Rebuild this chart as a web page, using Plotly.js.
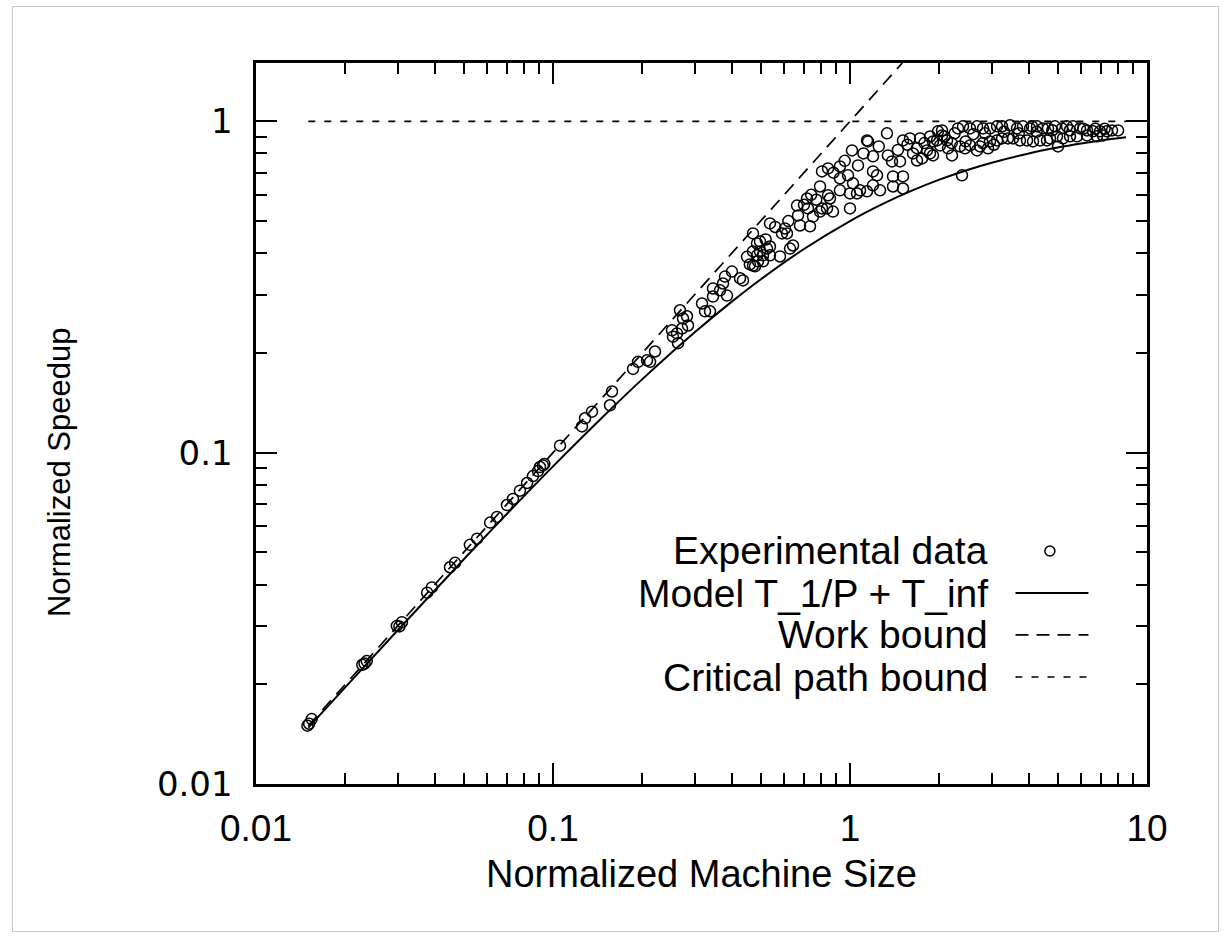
<!DOCTYPE html>
<html>
<head>
<meta charset="utf-8">
<script src="https://cdn.plot.ly/plotly-3.0.1.min.js"></script>
<style>
  html, body { margin: 0; padding: 0; background: #ffffff; }
  #chart { position: absolute; left: 0; top: 0; width: 1230px; height: 937px; }
  #frame { position: absolute; left: 12px; top: 6px; width: 1205px; height: 924px;
           border: 1px solid #c8c8c8; pointer-events: none; }
</style>
</head>
<body>
<div id="chart"></div>
<div id="frame"></div>
<script>
// ---- Experimental data (normalized machine size, normalized speedup) ----
const expX = [
  0.0149, 0.0154, 0.0151, 0.0228, 0.0236, 0.0232, 0.0298, 0.0310, 0.0304,
  0.0377, 0.0391, 0.0450, 0.0468, 0.0525, 0.0555, 0.0614, 0.0648,
  0.0700, 0.0733, 0.0774, 0.0818, 0.0856, 0.0890, 0.0904, 0.0925, 0.0935,
  0.1056, 0.1252, 0.1282, 0.1353, 0.158, 0.1556, 0.186, 0.1933, 0.2073, 0.2205,
  0.2122, 0.2516, 0.2615, 0.2677, 0.274, 0.2848, 0.2826, 0.2636, 0.2535, 0.2719,
  0.3175, 0.325, 0.3378, 0.3457, 0.365, 0.3736, 0.3794, 0.3853, 0.4005, 0.4262,
  0.3457, 0.4362,
  0.4714, 0.4863, 0.4977, 0.4714, 0.49, 0.5094, 0.4714, 0.5254, 0.4977, 0.4863,
  0.4788, 0.5377, 0.5377, 0.5094, 0.581, 0.5902, 0.6135, 0.604, 0.6281, 0.6429, 0.5377,
  0.6631, 0.6683, 0.6786, 0.7165, 0.7221, 0.7334, 0.7506, 0.7925, 0.805, 0.8368,
  0.8561, 0.8764, 0.7925, 0.805, 0.8433, 0.8433, 0.925, 0.925, 0.925, 0.9846,
  1.0, 1.0, 1.0156, 1.064, 1.0235, 1.056, 1.081, 1.141, 1.141, 1.195, 1.195,
  1.233, 1.195, 1.262, 1.332, 1.342, 1.385, 1.396, 1.396, 1.474, 1.508, 1.508,
  1.508, 1.592, 1.63, 1.681, 1.721, 1.748, 1.816, 1.903, 1.903, 1.979, 1.15,
  2.041, 2.041, 2.122, 2.31, 2.402, 2.535, 2.677, 2.805, 2.961, 3.126, 3.25,
  3.457, 3.65, 3.824, 4.038, 4.1, 4.262, 4.465, 4.642, 4.9, 5.174, 5.377, 5.633,
  5.948, 6.281, 6.579, 6.947, 7.334, 7.624, 7.989,
  1.963, 2.01, 2.138, 2.205, 2.346, 2.439, 2.535, 2.677, 2.74, 2.916, 2.961,
  3.126, 3.25, 3.404, 3.539, 3.736, 3.945, 4.133, 4.362, 4.605, 4.714, 4.977,
  5.214, 5.504, 5.81, 6.281, 6.786, 7.11,
  2.383, 5.016, 1.859,
  1.45, 1.56, 1.68, 1.78, 1.86, 2.08, 2.25, 2.6, 2.85, 3.3, 3.7, 4.25, 4.8,
  5.5, 6.1, 6.7, 7.2, 2.2, 2.45, 2.8, 3.05,
  0.45, 0.46, 0.52, 0.56, 0.62, 0.70, 0.74, 0.77, 0.88, 0.96, 1.11, 1.25
];
const expY = [
  0.0150, 0.0157, 0.0152, 0.0229, 0.0235, 0.0231, 0.0300, 0.0308, 0.0299,
  0.0378, 0.0392, 0.0451, 0.0465, 0.0527, 0.0550, 0.0615, 0.0640,
  0.0695, 0.0725, 0.0768, 0.0810, 0.0850, 0.0880, 0.0905, 0.0915, 0.0925,
  0.105, 0.120, 0.127, 0.133, 0.153, 0.139, 0.179, 0.188, 0.190, 0.202,
  0.188, 0.234, 0.229, 0.269, 0.254, 0.242, 0.258, 0.214, 0.224, 0.237,
  0.282, 0.267, 0.267, 0.296, 0.309, 0.324, 0.340, 0.298, 0.352, 0.336,
  0.313, 0.331,
  0.459, 0.428, 0.405, 0.405, 0.378, 0.378, 0.367, 0.413, 0.434, 0.394,
  0.365, 0.394, 0.419, 0.394, 0.391, 0.459, 0.459, 0.475, 0.413, 0.422, 0.492,
  0.557, 0.520, 0.485, 0.585, 0.546, 0.482, 0.516, 0.534, 0.546, 0.546,
  0.585, 0.534, 0.636, 0.706, 0.721, 0.598, 0.731, 0.673, 0.619, 0.687,
  0.546, 0.606, 0.817, 0.736, 0.650, 0.606, 0.619, 0.876, 0.615, 0.784, 0.706,
  0.687, 0.641, 0.619, 0.920, 0.789, 0.757, 0.682, 0.636, 0.757, 0.682, 0.627,
  0.876, 0.888, 0.800, 0.762, 0.888, 0.773, 0.817, 0.870, 0.789, 0.933, 0.870,
  0.939, 0.907, 0.876, 0.952, 0.966, 0.952, 0.966, 0.952, 0.952, 0.966, 0.966,
  0.973, 0.952, 0.966, 0.952, 0.966, 0.966, 0.952, 0.952, 0.966, 0.952, 0.966, 0.966,
  0.952, 0.939, 0.933, 0.933, 0.933, 0.939, 0.939,
  0.876, 0.846, 0.829, 0.789, 0.840, 0.829, 0.846, 0.817, 0.840, 0.829, 0.870,
  0.876, 0.888, 0.888, 0.888, 0.876, 0.876, 0.870, 0.876, 0.876, 0.888, 0.901,
  0.888, 0.901, 0.901, 0.907, 0.901, 0.907,
  0.687, 0.840, 0.800,
  0.82, 0.85, 0.83, 0.86, 0.90, 0.90, 0.92, 0.915, 0.92, 0.93, 0.92, 0.93, 0.94,
  0.94, 0.95, 0.95, 0.95, 0.86, 0.87, 0.86, 0.85,
  0.39, 0.37, 0.44, 0.48, 0.50, 0.56, 0.60, 0.58, 0.70, 0.76, 0.80, 0.84
];

// ---- Model T_1/P + T_inf ----
const modelX = [0.015, 0.02, 0.03, 0.05, 0.07, 0.1, 0.15, 0.2, 0.3, 0.4, 0.5, 0.7,
                1, 1.3, 1.6, 2, 2.5, 3, 4, 5, 6, 7, 8.5];
const modelY = [0.0148, 0.0196, 0.0291, 0.0476, 0.0654, 0.0909, 0.1304, 0.1667,
                0.2308, 0.2857, 0.3333, 0.4118, 0.5, 0.5652, 0.6154, 0.6667,
                0.7143, 0.75, 0.8, 0.8333, 0.8571, 0.875, 0.8947];

// ---- Work bound (speedup = machine size) ----
const workX = [0.015, 1.5];
const workY = [0.015, 1.5];

// ---- Critical path bound (speedup = 1) ----
const critX = [0.015, 8.5];
const critY = [1, 1];

// ---- Axis ticks ----
const xTickVals = [0.01, 0.1, 1, 10];
const xTickText = ['0.01', '0.1', '1', '10'];
const yTickVals = [0.01, 0.1, 1];
const yTickText = ['0.01', '0.1', '1'];
const xMinorVals = [0.02,0.03,0.04,0.05,0.06,0.07,0.08,0.09,
                    0.2,0.3,0.4,0.5,0.6,0.7,0.8,0.9,
                    2,3,4,5,6,7,8,9];
const yMinorVals = [0.02,0.03,0.04,0.05,0.06,0.07,0.08,0.09,
                    0.2,0.3,0.4,0.5,0.6,0.7,0.8,0.9];

// ---- Titles and legend labels ----
const xTitle = 'Normalized Machine Size';
const yTitle = 'Normalized Speedup';
const legendLabels = ['Experimental data', 'Model T_1/P + T_inf', 'Work bound', 'Critical path bound'];

const HELV = 'Liberation Sans, Arial, Helvetica, sans-serif';
const WIDE = 'DejaVu Sans, Verdana, sans-serif';

const traces = [
  { x: critX, y: critY, type: 'scatter', mode: 'lines', name: legendLabels[3],
    line: { color: '#000', width: 1.7, dash: '7px,9px' }, hoverinfo: 'skip' },
  { x: workX, y: workY, type: 'scatter', mode: 'lines', name: legendLabels[2],
    line: { color: '#000', width: 1.7, dash: '13px,8px' }, hoverinfo: 'skip' },
  { x: modelX, y: modelY, type: 'scatter', mode: 'lines', name: legendLabels[1],
    line: { color: '#000', width: 2, shape: 'spline' }, hoverinfo: 'skip' },
  { x: expX, y: expY, type: 'scatter', mode: 'markers', name: legendLabels[0],
    marker: { symbol: 'circle-open', size: 11, color: '#000', line: { width: 1.5, color: '#000' } } }
];

// legend rows (paper coords)
const legTextX = 0.824;
const legRowY = [0.3232, 0.2649, 0.2067, 0.1484];
const legKeyX0 = 0.8524, legKeyX1 = 0.9343, legCircleX = 0.891;

const annotations = [
  { text: yTitle, xref: 'paper', yref: 'paper', x: -0.221, y: 0.4327,
    textangle: -90, showarrow: false, xanchor: 'center', yanchor: 'middle',
    font: { family: HELV, size: 31, color: '#000' } },
  { text: xTitle, xref: 'paper', yref: 'paper', x: 0.5, y: -0.1248,
    showarrow: false, xanchor: 'center', yanchor: 'middle',
    font: { family: HELV, size: 38, color: '#000' } }
];
legendLabels.forEach(function (lab, i) {
  annotations.push({ text: lab, xref: 'paper', yref: 'paper', x: legTextX, y: legRowY[i],
    xanchor: 'right', yanchor: 'middle', showarrow: false,
    font: { family: HELV, size: 39, color: '#000' } });
});

const shapes = [
  { type: 'circle', xref: 'paper', yref: 'paper', xsizemode: 'pixel', ysizemode: 'pixel',
    xanchor: legCircleX, yanchor: legRowY[0], x0: -5, x1: 5, y0: -5, y1: 5,
    line: { color: '#000', width: 1.5 } },
  { type: 'line', xref: 'paper', yref: 'paper', x0: legKeyX0, x1: legKeyX1, y0: legRowY[1], y1: legRowY[1],
    line: { color: '#000', width: 2 } },
  { type: 'line', xref: 'paper', yref: 'paper', x0: legKeyX0, x1: legKeyX1, y0: legRowY[2], y1: legRowY[2],
    line: { color: '#000', width: 1.7, dash: '13px,8px' } },
  { type: 'line', xref: 'paper', yref: 'paper', x0: legKeyX0, x1: legKeyX1, y0: legRowY[3], y1: legRowY[3],
    line: { color: '#000', width: 1.7, dash: '7px,9px' } }
];

const axisCommon = {
  type: 'log', showline: true, linecolor: '#000', linewidth: 2.6, mirror: 'allticks',
  ticks: 'inside', ticklen: 21, tickwidth: 2, tickcolor: '#000',
  showgrid: false, zeroline: false, tickmode: 'array'
};

const layout = {
  width: 1230, height: 937,
  paper_bgcolor: '#fff', plot_bgcolor: '#fff',
  margin: { l: 256, r: 83, t: 63, b: 153 },
  showlegend: false,
  xaxis: Object.assign({}, axisCommon, {
    range: [-2, 1],
    tickvals: xTickVals, ticktext: xTickText,
    tickfont: { family: HELV, size: 37, color: '#000' },
    ticklabelstandoff: 10,
    minor: { tickmode: 'array', tickvals: xMinorVals, ticks: 'inside', ticklen: 11, tickwidth: 2, tickcolor: '#000', showgrid: false }
  }),
  yaxis: Object.assign({}, axisCommon, {
    range: [-2, Math.log10(1.5)],
    tickvals: yTickVals, ticktext: yTickText,
    tickfont: { family: WIDE, size: 34, color: '#000' },
    ticklabelstandoff: 14,
    minor: { tickmode: 'array', tickvals: yMinorVals, ticks: 'inside', ticklen: 11, tickwidth: 2, tickcolor: '#000', showgrid: false }
  }),
  annotations: annotations,
  shapes: shapes
};

Plotly.newPlot('chart', traces, layout, { displayModeBar: false, staticPlot: true });
</script>
</body>
</html>
